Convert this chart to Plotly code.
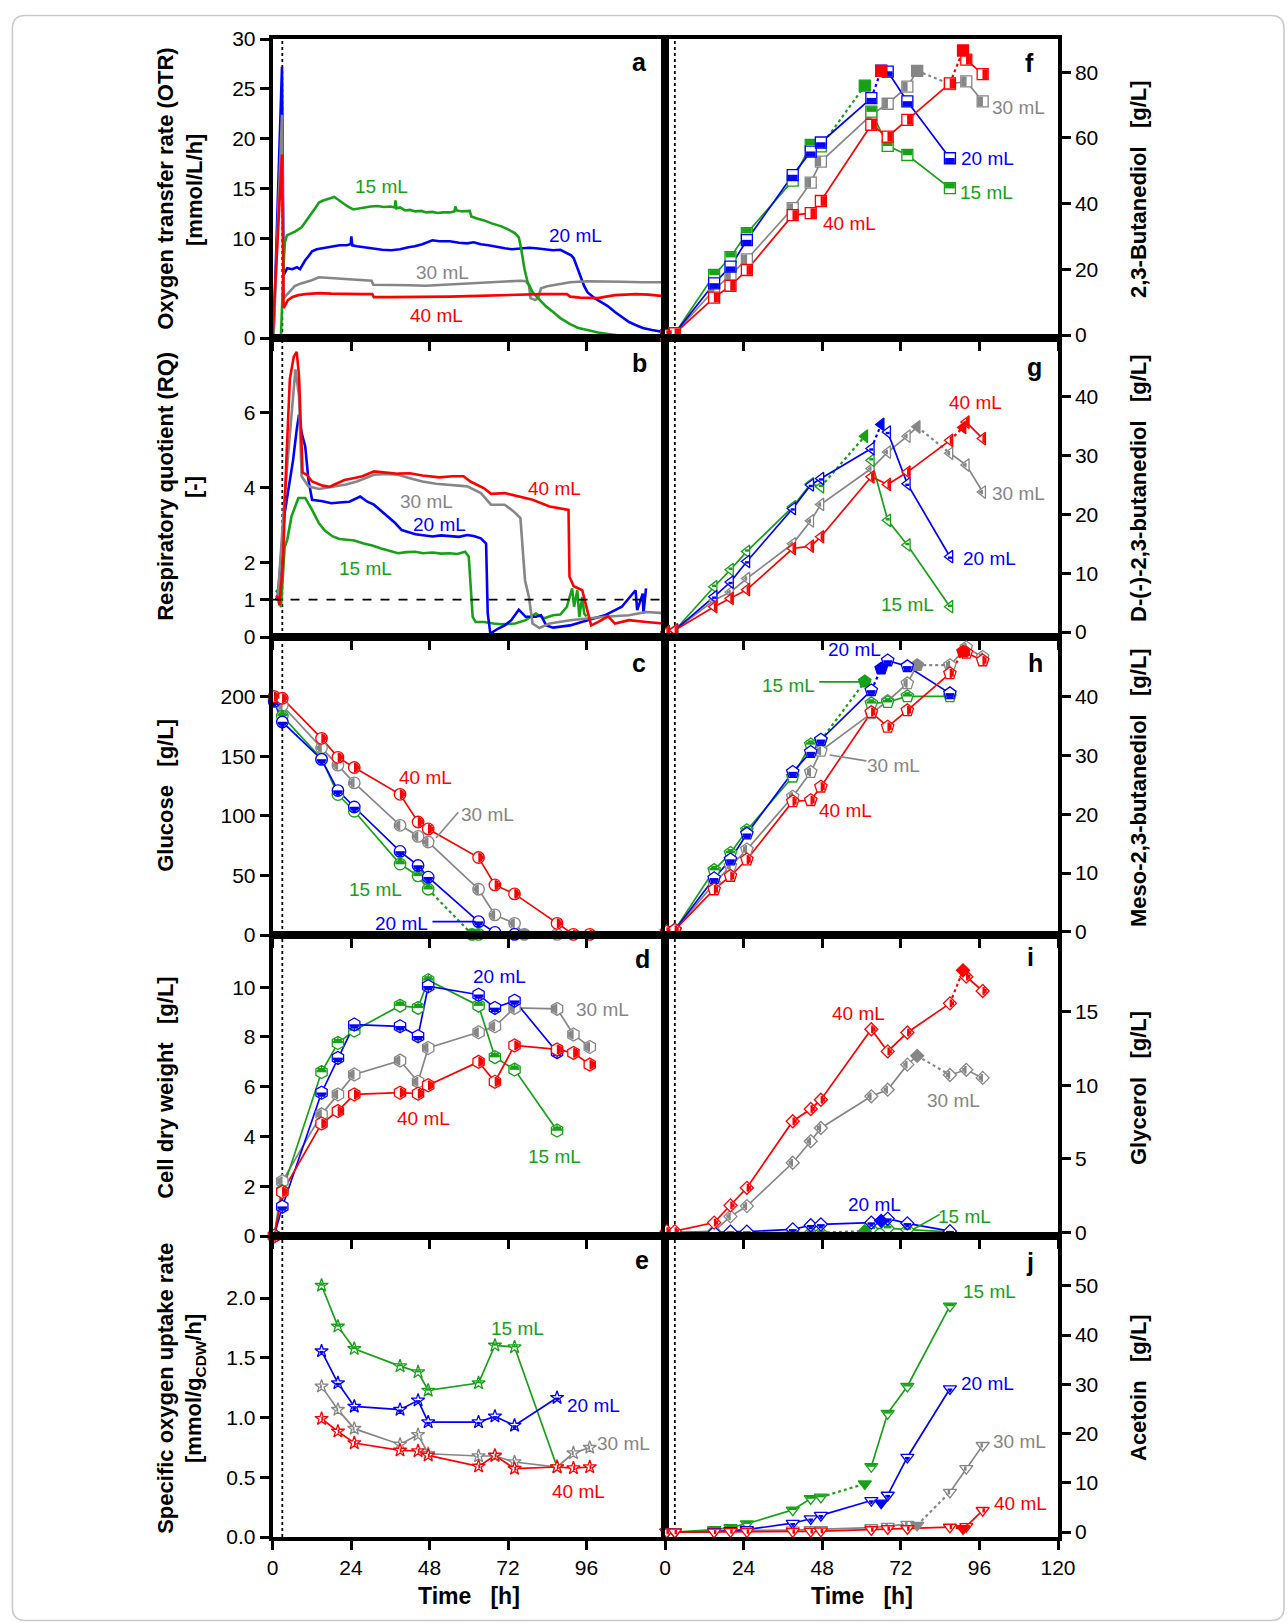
import math
import plotly.graph_objects as go
from plotly.subplots import make_subplots

W, H = 1287, 1623

# ------------------------------------------------------------------ DATA
VOLUMES = ['15 mL', '20 mL', '30 mL', '40 mL']

# (a) oxygen transfer rate, online (time h, OTR mmol/L/h)
OTR_15 = [(0, 0), (2.6, 0.3), (3.4, 7.5), (3.8, 9.6), (4.4, 10.3), (5.8, 10.5), (7.0, 10.7), (8.9, 11.1),
          (10.5, 11.8), (12.1, 12.5), (13.2, 13.1), (14.2, 13.6), (15.5, 13.8), (17.4, 14.0), (18.9, 14.15),
          (20.0, 13.9), (21.6, 13.5), (23.0, 13.2), (24.7, 12.9), (26.3, 13.0), (27.9, 13.05), (30.0, 13.2),
          (32.1, 13.25), (34.0, 13.15), (36.0, 13.2), (37.4, 13.1), (37.6, 13.8), (37.9, 13.0), (39.0, 13.1),
          (40.5, 12.8), (42.0, 12.85), (43.7, 12.7), (45.5, 12.75), (47.0, 12.6), (48.9, 12.65), (50.5, 12.55),
          (52.0, 12.6), (54.2, 12.6), (55.6, 12.7), (55.9, 13.2), (56.3, 12.8), (58.0, 12.7), (60.3, 12.75),
          (60.8, 12.2), (62.5, 12.0), (64.7, 11.8), (67.0, 11.5), (70.0, 11.2), (72.0, 10.9), (74.2, 10.5),
          (75.3, 10.1), (76.0, 9.0), (77.0, 7.0), (78.0, 5.6), (79.5, 4.6), (81.6, 3.9), (83.5, 3.2),
          (85.8, 2.6), (88.0, 2.0), (91.0, 1.4), (93.5, 1.0), (96.3, 0.8), (99.5, 0.55), (102.6, 0.4),
          (106.0, 0.25), (109.0, 0.13), (113.0, 0.05), (119.5, 0.0)]
OTR_20 = [(0.3, 0), (2.9, 27.2), (3.4, 6.3), (4.5, 7.0), (6.0, 6.9), (7.5, 7.1), (8.4, 6.9), (9.2, 7.4),
          (10.0, 7.8), (11.0, 8.2), (12.1, 8.7), (13.5, 8.9), (15.3, 9.0), (17.0, 9.15), (18.4, 9.2),
          (20.5, 9.3), (22.6, 9.3), (23.9, 9.4), (24.1, 10.2), (24.4, 9.3), (25.8, 9.2), (28.0, 9.1),
          (31.0, 9.0), (33.5, 8.85), (36.3, 8.8), (39.0, 8.9), (41.6, 9.1), (43.5, 9.2), (45.8, 9.4),
          (47.5, 9.6), (48.9, 9.8), (51.0, 9.7), (54.2, 9.7), (57.0, 9.55), (59.5, 9.5), (61.5, 9.6),
          (63.7, 9.4), (66.0, 9.3), (68.9, 9.1), (71.0, 9.0), (73.2, 8.9), (76.0, 9.0), (78.5, 9.05),
          (80.5, 9.0), (83.0, 8.9), (85.8, 8.8), (88.0, 8.85), (90.0, 8.5), (91.3, 8.3), (92.1, 8.0),
          (93.0, 7.2), (94.2, 6.0), (95.3, 5.2), (96.3, 4.6), (98.5, 4.0), (100.5, 3.6), (102.5, 3.2),
          (104.7, 2.6), (107.0, 2.1), (109.0, 1.6), (111.0, 1.3), (113.2, 1.0), (116.0, 0.8), (119.5, 0.6)]
OTR_30 = [(0.3, 0), (2.9, 22.4), (3.4, 4.0), (4.7, 4.5), (6.8, 5.2), (8.5, 5.45), (10.0, 5.6), (12.0, 5.8),
          (14.2, 6.1), (16.5, 6.05), (18.4, 6.0), (21.0, 5.95), (24.7, 5.9), (27.5, 5.85), (30.3, 5.75),
          (30.8, 5.35), (34.0, 5.35), (38.4, 5.3), (42.0, 5.3), (46.8, 5.25), (50.0, 5.3), (54.2, 5.4),
          (59.0, 5.5), (64.7, 5.6), (70.0, 5.65), (76.0, 5.75), (77.5, 5.7), (78.4, 5.3), (78.9, 4.0),
          (80.3, 3.8), (81.2, 4.0), (82.1, 5.0), (84.0, 5.2), (85.8, 5.3), (88.0, 5.45), (91.0, 5.6),
          (96.3, 5.7), (101.0, 5.7), (106.8, 5.65), (113.0, 5.6), (119.5, 5.6)]
OTR_40 = [(0, 0), (2.9, 18.4), (3.4, 3.0), (4.7, 3.8), (6.0, 4.1), (7.9, 4.3), (10.0, 4.4), (14.2, 4.5),
          (18.0, 4.45), (22.6, 4.4), (27.0, 4.4), (30.5, 4.4), (31.0, 4.1), (36.0, 4.1), (43.7, 4.1),
          (50.0, 4.15), (54.2, 4.15), (60.0, 4.2), (64.7, 4.25), (70.0, 4.3), (75.3, 4.35), (82.0, 4.4),
          (90.0, 4.4), (91.0, 4.15), (94.0, 4.05), (96.3, 4.0), (99.5, 4.0), (102.0, 4.15), (104.7, 4.3),
          (108.0, 4.35), (111.0, 4.4), (115.0, 4.35), (119.5, 4.2)]

# (b) respiratory quotient, online (time h, RQ)
RQ_15 = [(1.0, 1.25), (1.6, 1.2), (2.6, 0.8), (3.7, 2.4), (4.5, 2.6), (5.8, 3.22), (7.9, 3.72), (10.0, 3.72),
         (12.1, 3.4), (14.2, 3.04), (16.0, 2.85), (18.4, 2.69), (20.5, 2.62), (22.6, 2.6), (25.0, 2.58),
         (27.9, 2.5), (30.5, 2.45), (33.2, 2.37), (36.0, 2.3), (38.4, 2.24), (41.0, 2.27), (43.7, 2.28),
         (46.0, 2.24), (48.9, 2.26), (51.5, 2.23), (54.2, 2.24), (56.5, 2.22), (58.9, 2.28), (60.0, 2.15),
         (60.7, 1.25), (61.2, 0.54), (62.1, 0.4), (64.7, 0.4), (67.5, 0.36), (70.0, 0.34), (74.2, 0.36),
         (77.4, 0.45), (80.5, 0.63), (83.0, 0.5), (85.8, 0.58), (88.0, 0.6), (90.0, 0.81), (91.6, 1.3),
         (92.2, 0.81), (93.2, 1.25), (93.8, 0.54), (94.7, 1.07), (95.3, 0.63), (96.0, 0.55)]
RQ_20 = [(1.0, 1.0), (1.6, 1.07), (3.7, 3.3), (6.3, 4.74), (7.4, 5.55), (8.1, 5.95), (8.9, 5.46), (10.0, 5.1),
         (11.0, 4.2), (12.1, 3.67), (15.3, 3.63), (18.0, 3.58), (20.5, 3.6), (23.5, 3.62), (26.8, 3.76),
         (29.0, 3.62), (31.0, 3.54), (33.0, 3.4), (35.3, 3.22), (37.5, 3.05), (39.5, 2.86), (43.7, 2.75),
         (46.5, 2.72), (48.9, 2.69), (51.5, 2.72), (54.2, 2.7), (57.0, 2.68), (59.5, 2.73), (61.5, 2.7),
         (63.7, 2.64), (65.3, 2.5), (65.8, 0.63), (66.6, 0.09), (68.9, 0.22), (71.0, 0.31), (73.0, 0.45),
         (75.3, 0.73), (77.4, 0.54), (80.5, 0.54), (82.1, 0.58), (83.7, 0.31), (85.8, 0.25), (91.0, 0.31),
         (96.3, 0.45), (101.6, 0.58), (106.8, 0.81), (111.0, 1.25), (111.5, 0.72), (113.2, 1.16),
         (113.4, 0.63), (114.2, 1.3)]
RQ_30 = [(1.0, 1.0), (1.6, 1.0), (3.7, 3.76), (5.8, 6.0), (7.0, 7.16), (8.1, 6.45), (8.9, 4.3), (11.0, 4.03),
         (14.2, 3.96), (17.0, 4.0), (19.5, 4.03), (22.5, 4.08), (25.8, 4.16), (28.5, 4.25), (31.0, 4.34),
         (34.5, 4.36), (38.4, 4.34), (42.0, 4.25), (45.8, 4.16), (50.0, 4.1), (54.2, 4.07), (57.0, 4.05),
         (59.5, 4.03), (63.7, 3.85), (66.8, 3.54), (71.0, 3.54), (73.7, 3.36), (75.8, 3.18), (76.3, 2.5),
         (77.2, 1.52), (78.4, 1.07), (79.5, 0.36), (81.6, 0.24), (84.7, 0.36), (91.0, 0.45), (96.0, 0.5),
         (101.6, 0.54), (109.0, 0.58), (114.2, 0.67), (119.5, 0.64)]
RQ_40 = [(1.0, 1.1), (1.6, 1.07), (2.1, 0.85), (3.2, 2.0), (4.2, 4.65), (5.3, 6.9), (6.5, 7.5), (7.4, 7.63),
         (8.1, 7.0), (8.7, 5.55), (9.2, 4.4), (10.5, 4.34), (12.1, 4.16), (15.3, 4.05), (17.5, 4.02),
         (19.5, 4.1), (22.0, 4.2), (24.7, 4.25), (27.5, 4.3), (31.0, 4.43), (34.0, 4.4), (38.4, 4.37),
         (42.0, 4.38), (45.8, 4.32), (51.0, 4.27), (55.0, 4.3), (58.4, 4.3), (60.5, 4.16), (64.7, 3.98),
         (66.8, 3.83), (71.0, 3.85), (75.3, 3.76), (79.5, 3.67), (84.7, 3.49), (90.5, 3.4), (90.8, 1.61),
         (92.1, 1.36), (94.7, 1.25), (96.3, 0.72), (97.4, 0.31), (99.5, 0.4), (102.6, 0.55), (104.7, 0.36),
         (109.0, 0.45), (114.3, 0.4), (119.5, 0.36)]

# sampling times (h)
TS = [0.5, 3, 15, 20, 25, 39, 44.5, 47.6, 63, 68, 74, 87, 92, 97]
TE = [15, 20, 25, 39, 44.5, 47.6, 63, 68, 74, 87, 92, 97]
T_END = [61, 66, 77, 91]          # extra (filled) samples for 15, 20, 30, 40 mL

# (c) glucose [g/L]
GLU15 = [200, 183.7, 147.8, 117.8, 103.8, 59.5, 49.6, 38.4, 0.5, None, None, None, None, None]
GLU20 = [196, 178.7, 147.3, 121.2, 107.4, 70.1, 58.3, 48.5, 11.2, 2.2, 0.5, None, None, None]
GLU30 = [198, 192.7, 157, 142.5, 127.6, 92, 82.7, 78, 38.4, 16.8, 9.8, 0.5, None, None]
GLU40 = [200, 198.6, 165, 149, 140.5, 118, 94.8, 89, 65, 42, 34.5, 9.8, 0.5, 0.5]
GLU_END = [0.5, None, 0.5, None]

# (d) cell dry weight [g/L]
CDW15 = [0, 1.8, 6.59, 7.76, 8.26, 9.26, 9.17, 10.28, 9.26, 7.19, 6.69, 4.24, None, None]
CDW20 = [0, 1.18, 5.76, 7.16, 8.5, 8.43, 8.03, 10.04, 9.7, 9.17, 9.46, 7.39, None, None]
CDW30 = [0, 2.2, 4.89, 5.69, 6.49, 7.05, 6.2, 7.56, 8.19, 8.43, 9.17, 9.13, 8.1, 7.6]
CDW40 = [0, 1.77, 4.52, 5.02, 5.69, 5.76, 5.72, 6.06, 7.0, 6.2, 7.66, 7.5, 7.36, 6.89]

# (e) specific oxygen uptake rate [mmol/gCDW/h]
QO15 = [2.106, 1.763, 1.576, 1.431, 1.381, 1.227, 1.289, 1.604, 1.59, 0.586, None, None]
QO20 = [1.556, 1.289, 1.093, 1.066, 1.144, 0.962, 0.962, 1.01, 0.934, 1.166, None, None]
QO30 = [1.261, 1.066, 0.907, 0.775, 0.856, 0.697, 0.678, 0.678, 0.628, 0.586, 0.703, 0.748]
QO40 = [0.99, 0.884, 0.787, 0.725, 0.72, 0.683, 0.591, 0.683, 0.572, 0.586, 0.577, 0.586]

# (f) 2,3-butanediol [g/L]
BDO15 = [0, 0.5, 18.3, 23.7, 31.0, 47.0, 57.9, 57.4, 68.0, 57.6, 54.8, 44.7, None, None]
BDO20 = [0, 0.5, 15.7, 20.8, 28.9, 48.7, 55.8, 58.6, 72.1, 80.2, 71.1, 53.8, None, None]
BDO30 = [0, 0.5, 13.7, 18.3, 23.0, 38.6, 46.4, 52.8, 67.0, 70.4, 75.6, 76.4, 77.2, 71.1]
BDO40 = [0, 0.5, 11.4, 15.0, 19.8, 36.5, 37.1, 40.8, 64.0, 60.4, 65.5, 76.6, 83.8, 79.4]
BDO_END = [75.9, 80.5, 80.4, 86.6]
BDO40_EXTRA_T = [66]
BDO40_EXTRA = [80.4]

# (g) D-(-)-2,3-butanediol [g/L]
DBD15 = [0, 0.3, 7.7, 10.6, 13.7, 21.3, 25.2, 24.7, 29.2, 19.0, 14.8, 4.3, None, None]
DBD20 = [0, 0.3, 6.0, 8.5, 12.0, 21.0, 25.0, 26.1, 31.2, 34.0, 25.2, 12.8, None, None]
DBD30 = [0, 0.3, 5.4, 6.8, 9.1, 15.0, 18.9, 21.7, 27.8, 30.6, 33.3, 30.4, 28.4, 23.8]
DBD40 = [0, 0.3, 4.3, 5.7, 7.2, 14.2, 14.6, 16.2, 26.4, 25.1, 27.2, 32.6, 35.7, 32.9]
DBD_END = [33.3, 35.3, 34.9, 34.8]

# (h) meso-2,3-butanediol [g/L]
MES15 = [0, 0.3, 10.5, 13.4, 17.3, 26.4, 31.9, 32.6, 38.9, 39.1, 40.1, 40.1, None, None]
MES20 = [0, 0.3, 9.1, 12.3, 16.7, 27.2, 30.6, 32.7, 41.1, 46.2, 45.2, 40.6, None, None]
MES30 = [0, 0.3, 8.2, 11.2, 14.0, 23.0, 27.2, 30.8, 37.2, 39.3, 42.3, 45.4, 48.4, 46.8]
MES40 = [0, 0.3, 7.2, 9.5, 12.3, 22.2, 22.4, 24.7, 37.4, 34.9, 37.7, 44.0, 47.5, 46.2]
MES_END = [42.6, 44.8, 45.4, 47.7]

# (i) glycerol [g/L]
GLY15 = [0, 0, 0, 0, 0, 0, 0, 0, 0.25, 0.3, 0.2, 0.05, None, None]
GLY20 = [0, 0, 0, 0.07, 0.07, 0.22, 0.5, 0.56, 0.68, 0.95, 0.63, 0.1, None, None]
GLY30 = [0, 0, 0.1, 1.1, 1.8, 4.74, 6.2, 7.1, 9.25, 9.7, 11.4, 10.7, 11.05, 10.5]
GLY40 = [0.1, 0.1, 0.68, 1.85, 3.04, 7.56, 8.39, 9.02, 13.8, 12.3, 13.58, 15.56, 17.37, 16.4]
GLY_END = [0.1, 0.8, 12.0, 17.8]

# (j) acetoin [g/L]
ACE15 = [0, 0, 0.5, 0.9, 1.7, 4.5, 6.8, 7.1, 13.3, 24.1, 29.6, 45.9, None, None]
ACE20 = [0, 0, 0.1, 0.3, 0.5, 1.8, 2.7, 3.4, 6.4, 7.5, 15.2, 29.1, None, None]
ACE30 = [0, 0, 0.1, 0.2, 0.3, 0.4, 0.5, 0.5, 0.9, 1.2, 1.6, 8.1, 12.9, 17.6]
ACE40 = [0, 0, 0, 0.1, 0.1, 0.1, 0.15, 0.2, 0.5, 0.7, 0.7, 1.0, 1.15, 4.4]
ACE_END = [9.8, 5.9, 1.4, 0.7]

X_TICKS = [0, 24, 48, 72, 96, 120]

# ------------------------------------------------------------------ STYLE
COLORS = ['#17a117', '#0000ff', '#868686', '#ff0000']
HALF = ['top', 'bottom', 'left', 'right']
PRE = ['dot', 'dot', 'solid', 'dot']
POST = [None, None, 'dot', 'solid']
DRAW_ORDER = [2, 0, 1, 3]
FONT = 'Liberation Sans, Arial, sans-serif'
ANG = {'top': 180, 'bottom': 0, 'left': 90, 'right': -90}

XL = [272.5 / W, 665 / W]
XR = [665 / W, 1058 / W]
ROWS_PX = [(39, 338), (338, 637), (637, 935), (935, 1236), (1236, 1537)]


def ydom(r):
    top, bot = ROWS_PX[r]
    return [1 - bot / H, 1 - top / H]


def axn(row, col):
    i = (row - 1) * 2 + col
    s = '' if i == 1 else str(i)
    return 'x' + s, 'y' + s


CIRC = [(math.cos(2 * math.pi * i / 48), math.sin(2 * math.pi * i / 48)) for i in range(48)]
STAR = [(0.225, -0.309), (0.951, -0.309), (0.363, 0.118), (0.588, 0.809), (0, 0.382), (-0.588, 0.809),
        (-0.363, 0.118), (-0.951, -0.309), (-0.225, -0.309), (0, -1)]
POLY = {
    'circle': CIRC,
    'square': [(1, 1), (-1, 1), (-1, -1), (1, -1)],
    'diamond': [(1.3, 0), (0, 1.3), (-1.3, 0), (0, -1.3)],
    'triangle-left': [(0.5, -1.155), (0.5, 1.155), (-1, 0)],
    'triangle-down': [(-1.155, -0.5), (1.155, -0.5), (0, 1)],
    'pentagon': [(0.951, -0.309), (0.588, 0.809), (-0.588, 0.809), (-0.951, -0.309), (0, -1)],
    'hexagon': [(0.866, -0.5), (0.866, 0.5), (0, 1), (-0.866, 0.5), (-0.866, -0.5), (0, -1)],
    'star': [(x * 1.4, y * 1.4) for x, y in STAR],
}


def extent(poly, half):
    if half == 'top':
        return max(-y for x, y in poly)
    if half == 'bottom':
        return max(y for x, y in poly)
    if half == 'left':
        return max(-x for x, y in poly)
    return max(x for x, y in poly)


def chord(poly, half, h):
    if half in ('top', 'bottom'):
        c = -h if half == 'top' else h
        pts = [(y, x) for x, y in poly]
    else:
        c = -h if half == 'left' else h
        pts = [(x, y) for x, y in poly]
    xs = []
    n = len(pts)
    for i in range(n):
        a1, b1 = pts[i]
        a2, b2 = pts[(i + 1) % n]
        if a1 == a2:
            continue
        if min(a1, a2) <= c <= max(a1, a2):
            s = (c - a1) / (a2 - a1)
            xs.append(b1 + s * (b2 - b1))
    lo = [v for v in xs if v <= 1e-9]
    hi = [v for v in xs if v >= -1e-9]
    if not lo or not hi:
        return 0.0
    return min(-max(lo), min(hi))


def half_bars(sym, size, half):
    poly = POLY[sym]
    r = size / 2.0
    hmax = extent(poly, half)
    lim = 0.6 if sym == 'star' else 0.88
    fr = [0, 0.3 * lim / 0.88, 0.59 * lim / 0.88, lim]
    bars = []
    for a, b in zip(fr[:-1], fr[1:]):
        h0, h1 = a * hmax, b * hmax
        c = min(chord(poly, half, h) for h in (h0, (h0 + h1) / 2, h1))
        half_len = c * r - 0.7
        if half_len < 0.6:
            continue
        bars.append((2 * half_len, (h0 + h1) / 2 * r, (h1 - h0) * r + 0.5))
    return bars


fig = make_subplots(rows=5, cols=2, horizontal_spacing=0, vertical_spacing=0)


def add_half_markers(xs, ys, sym, size, color, half, row, col):
    fig.add_trace(go.Scatter(x=xs, y=ys, mode='markers', cliponaxis=False, hoverinfo='skip',
                             marker=dict(symbol=sym, size=size, color='white',
                                         line=dict(color=color, width=1.3))), row=row, col=col)
    for L, off, w in half_bars(sym, size, half):
        fig.add_trace(go.Scatter(x=xs, y=ys, mode='markers', cliponaxis=False, hoverinfo='skip',
                                 marker=dict(symbol='line-ew', size=L / 1.4, angle=ANG[half], standoff=off,
                                             color=color, line=dict(color=color, width=w))),
                      row=row, col=col)


def segments(t, v, tf, vf, pre, post):
    pts = [(a, b) for a, b in zip(t, v) if b is not None]
    if vf is None:
        return [pts], []
    k = max(i for i, (a, _) in enumerate(pts) if a < tf)
    before, after = pts[:k + 1], pts[k + 1:]
    dots = []
    if pre == 'solid':
        before = before + [(tf, vf)]
    else:
        dots.append([pts[k], (tf, vf)])
    if post == 'solid':
        after = [(tf, vf)] + after
    elif post == 'dot' and after:
        dots.append([(tf, vf), after[0]])
    return [before, after], dots


def join(segs):
    xs, ys = [], []
    for s in segs:
        if not s:
            continue
        if xs:
            xs.append(None)
            ys.append(None)
        xs += [p[0] for p in s]
        ys += [p[1] for p in s]
    return xs, ys


# ---- continuous panels a, b
for row, curves in ((1, [OTR_15, OTR_20, OTR_30, OTR_40]), (2, [RQ_15, RQ_20, RQ_30, RQ_40])):
    order = [1, 2, 0, 3] if row == 1 else [0, 1, 2, 3]
    for i in order:
        c = curves[i]
        fig.add_trace(go.Scatter(x=[p[0] for p in c], y=[p[1] for p in c], mode='lines', hoverinfo='skip',
                                 line=dict(color=COLORS[i], width=2.6)), row=row, col=1)

# ---- sampled panels
SAMPLED = [
    ('c', 3, 1, TS, [GLU15, GLU20, GLU30, GLU40], GLU_END, 'circle', 11.5),
    ('d', 4, 1, TS, [CDW15, CDW20, CDW30, CDW40], None, 'hexagon', 13),
    ('e', 5, 1, TE, [QO15, QO20, QO30, QO40], None, 'star', 10),
    ('f', 1, 2, TS, [BDO15, BDO20, BDO30, BDO40], BDO_END, 'square', 11),
    ('g', 2, 2, TS, [DBD15, DBD20, DBD30, DBD40], DBD_END, 'triangle-left', 11),
    ('h', 3, 2, TS, [MES15, MES20, MES30, MES40], MES_END, 'pentagon', 13),
    ('i', 4, 2, TS, [GLY15, GLY20, GLY30, GLY40], GLY_END, 'diamond', 10),
    ('j', 5, 2, TS, [ACE15, ACE20, ACE30, ACE40], ACE_END, 'triangle-down', 11.5),
]

for key, row, col, t, series, ends, sym, size in SAMPLED:
    for i in DRAW_ORDER:
        vf = ends[i] if ends else None
        solids, dots = segments(t, series[i], T_END[i], vf, PRE[i], POST[i])
        xs, ys = join(solids)
        fig.add_trace(go.Scatter(x=xs, y=ys, mode='lines', hoverinfo='skip', cliponaxis=False,
                                 line=dict(color=COLORS[i], width=1.7)), row=row, col=col)
        if dots:
            xs, ys = join(dots)
            fig.add_trace(go.Scatter(x=xs, y=ys, mode='lines', hoverinfo='skip',
                                     line=dict(color=COLORS[i], width=2.2, dash='dot')), row=row, col=col)
    for i in DRAW_ORDER:
        pts = [(a, b) for a, b in zip(t, series[i]) if b is not None]
        add_half_markers([p[0] for p in pts], [p[1] for p in pts], sym, size, COLORS[i], HALF[i], row, col)
        vf = ends[i] if ends else None
        if vf is not None:
            fig.add_trace(go.Scatter(x=[T_END[i]], y=[vf], mode='markers', cliponaxis=False, hoverinfo='skip',
                                     marker=dict(symbol=sym, size=size, color=COLORS[i],
                                                 line=dict(color=COLORS[i], width=1.3))), row=row, col=col)
        if key == 'f' and i == 3:
            fig.add_trace(go.Scatter(x=BDO40_EXTRA_T, y=BDO40_EXTRA, mode='markers', cliponaxis=False,
                                     hoverinfo='skip',
                                     marker=dict(symbol=sym, size=size, color=COLORS[i],
                                                 line=dict(color=COLORS[i], width=1.3))), row=row, col=col)

# ---- axes
PANELS = [
    ('a', 1, 1, [0, 30], [0, 5, 10, 15, 20, 25, 30], None),
    ('f', 1, 2, [-0.9, 90.1], [0, 20, 40, 60, 80], None),
    ('b', 2, 1, [0, 8], [0, 1, 2, 4, 6], None),
    ('g', 2, 2, [-0.85, 50], [0, 10, 20, 30, 40], None),
    ('c', 3, 1, [0, 250], [0, 50, 100, 150, 200], None),
    ('h', 3, 2, [-0.55, 50.2], [0, 10, 20, 30, 40], None),
    ('d', 4, 1, [0, 12.1], [0, 2, 4, 6, 8, 10], None),
    ('i', 4, 2, [-0.23, 20.2], [0, 5, 10, 15], None),
    ('e', 5, 1, [0, 2.52], [0, 0.5, 1.0, 1.5, 2.0], '.1f'),
    ('j', 5, 2, [-1.0, 60.1], [0, 10, 20, 30, 40, 50], None),
]
tickfont = dict(family=FONT, size=21, color='black')
axis_common = dict(showline=True, linewidth=3.5, linecolor='black', mirror=True, showgrid=False,
                   zeroline=False, ticks='outside', ticklen=9, tickwidth=2.5, tickcolor='black',
                   tickfont=tickfont, automargin=False)
shapes = []
for key, row, col, yr, yt, fmt in PANELS:
    xdom = XL if col == 1 else XR
    xt = X_TICKS if col == 2 else X_TICKS[:-1]
    fig.update_xaxes(domain=xdom, range=[0, 120], tickvals=xt, ticktext=[str(v) for v in xt],
                     showticklabels=(row == 5), row=row, col=col, **axis_common)
    yargs = dict(domain=ydom(row - 1), range=yr, tickvals=yt, row=row, col=col)
    if fmt:
        yargs['tickformat'] = fmt
    if col == 2:
        yargs['side'] = 'right'
    fig.update_yaxes(**yargs, **axis_common)
    xa, ya = axn(row, col)
    shapes.append(dict(type='line', xref=xa, yref=ya + ' domain', x0=3, x1=3, y0=0, y1=1, layer='below',
                       line=dict(color='black', width=1.8, dash='dot')))

xa, ya = axn(2, 1)
shapes.append(dict(type='line', xref=xa + ' domain', yref=ya, x0=0, x1=1, y0=1, y1=1,
                   line=dict(color='black', width=1.8, dash='dash')))

# leader lines for labels
LEADERS = [
    ('c', 3, 1, 56.8, 102.9, 50.0, 81.3, 2),
    ('c', 3, 1, 48.9, 11.2, 62.1, 11.2, 1),
    ('h', 3, 2, 47.1, 42.55, 60.0, 42.55, 0),
    ('h', 3, 2, 50.3, 30.1, 61.5, 29.1, 2),
    ('i', 4, 2, 83.9, 1.24, 75.8, 0.23, 0),
]
for _, row, col, x0, y0, x1, y1, i in LEADERS:
    xa, ya = axn(row, col)
    shapes.append(dict(type='line', xref=xa, yref=ya, x0=x0, y0=y0, x1=x1, y1=y1,
                       line=dict(color=COLORS[i], width=1.6)))

# outer rounded frame
fx0, fy0, fx1, fy1, rad = 12.4, 15.5, 1284.0, 1620.5, 13.0


def P(x, y):
    return f'{x / W:.5f},{1 - y / H:.5f}'


frame = (f'M {P(fx0 + rad, fy0)} L {P(fx1 - rad, fy0)} Q {P(fx1, fy0)} {P(fx1, fy0 + rad)} '
         f'L {P(fx1, fy1 - rad)} Q {P(fx1, fy1)} {P(fx1 - rad, fy1)} L {P(fx0 + rad, fy1)} '
         f'Q {P(fx0, fy1)} {P(fx0, fy1 - rad)} L {P(fx0, fy0 + rad)} Q {P(fx0, fy0)} {P(fx0 + rad, fy0)} Z')
shapes.append(dict(type='path', xref='paper', yref='paper', path=frame, line=dict(color='#c9c9c9', width=1.6)))

# ---- annotations
ann = []
LABELS = {
    'a': (1, 1, [(33.2, 15.2), (92.6, 10.3), (51.9, 6.6), (50.2, 2.3)]),
    'b': (2, 1, [(28.4, 1.84), (51.0, 3.0), (47.0, 3.63), (86.3, 3.98)]),
    'c': (3, 1, [(31.6, 38.4), (39.5, 9.3), (65.6, 101.5), (46.8, 131.8)]),
    'd': (4, 1, [(86.3, 3.21), (69.5, 10.44), (101.0, 9.1), (46.3, 4.71)]),
    'e': (5, 1, [(74.8, 1.743), (98.1, 1.10), (107.4, 0.787), (93.5, 0.385)]),
    'f': (1, 2, [(98.1, 43.4), (98.6, 53.8), (107.9, 69.3), (56.4, 33.8)]),
    'g': (2, 2, [(73.9, 4.7), (99.2, 12.5), (107.8, 23.5), (94.9, 39.1)]),
    'h': (3, 2, [(37.6, 42.0), (57.8, 48.1), (69.9, 28.4), (55.1, 20.7)]),
    'i': (4, 2, [(91.5, 1.06), (64.1, 1.9), (88.0, 9.0), (59.2, 14.9)]),
    'j': (5, 2, [(99.2, 48.8), (98.4, 30.1), (108.1, 18.3), (108.5, 5.9)]),
}
LETTERS = {'a': (112.1, 27.7), 'b': (112.1, 7.34), 'c': (112.1, 228.6), 'd': (113.2, 11.14),
           'e': (112.9, 2.32), 'f': (111.2, 82.7), 'g': (112.9, 45.1), 'h': (113.2, 45.7),
           'i': (111.7, 18.7), 'j': (111.6, 54.9)}
for key, (row, col, pos) in LABELS.items():
    xa, ya = axn(row, col)
    for i, (x, y) in enumerate(pos):
        ann.append(dict(x=x, y=y, xref=xa, yref=ya, text=VOLUMES[i], showarrow=False,
                        font=dict(family=FONT, size=19, color=COLORS[i]), xanchor='center', yanchor='middle'))
    lx, ly = LETTERS[key]
    ann.append(dict(x=lx, y=ly, xref=xa, yref=ya, text=f'<b>{key}</b>', showarrow=False,
                    font=dict(family=FONT, size=25, color='black'), xanchor='center', yanchor='middle'))

SP = '\u00a0\u00a0\u00a0'
TITLES = [
    (164.8, 189, 'Oxygen transfer rate (OTR)'), (195, 190, '[mmol/L/h]'),
    (164.8, 486, 'Respiratory quotient (RQ)'), (194, 487, '[-]'),
    (164.8, 795, 'Glucose' + SP + '[g/L]'),
    (164.8, 1088, 'Cell dry weight' + SP + '[g/L]'),
    (164.8, 1388, 'Specific oxygen uptake rate'), (195, 1389, '[mmol/g<sub>CDW</sub>/h]'),
    (1138, 189, '2,3-Butanediol' + SP + '[g/L]'),
    (1138, 488, 'D-(-)-2,3-butanediol' + SP + '[g/L]'),
    (1138, 788, 'Meso-2,3-butanediol' + SP + '[g/L]'),
    (1138, 1088, 'Glycerol' + SP + '[g/L]'),
    (1138, 1388, 'Acetoin' + SP + '[g/L]'),
]
for x, y, txt in TITLES:
    ann.append(dict(x=x / W, y=1 - y / H, xref='paper', yref='paper', text=f'<b>{txt}</b>', textangle=-90,
                    showarrow=False, xanchor='center', yanchor='middle',
                    font=dict(family=FONT, size=22, color='black')))
for x in (468.75, 861.5):
    ann.append(dict(x=x / W, y=1 - 1596 / H, xref='paper', yref='paper', text='<b>Time' + SP + '[h]</b>',
                    showarrow=False, xanchor='center', yanchor='middle',
                    font=dict(family=FONT, size=23, color='black')))

fig.update_layout(template='none', width=W, height=H, margin=dict(l=0, r=0, t=0, b=0, pad=0),
                  showlegend=False, paper_bgcolor='white', plot_bgcolor='white',
                  font=dict(family=FONT, size=21, color='black'),
                  shapes=shapes, annotations=ann)
fig.write_html('out.html')
